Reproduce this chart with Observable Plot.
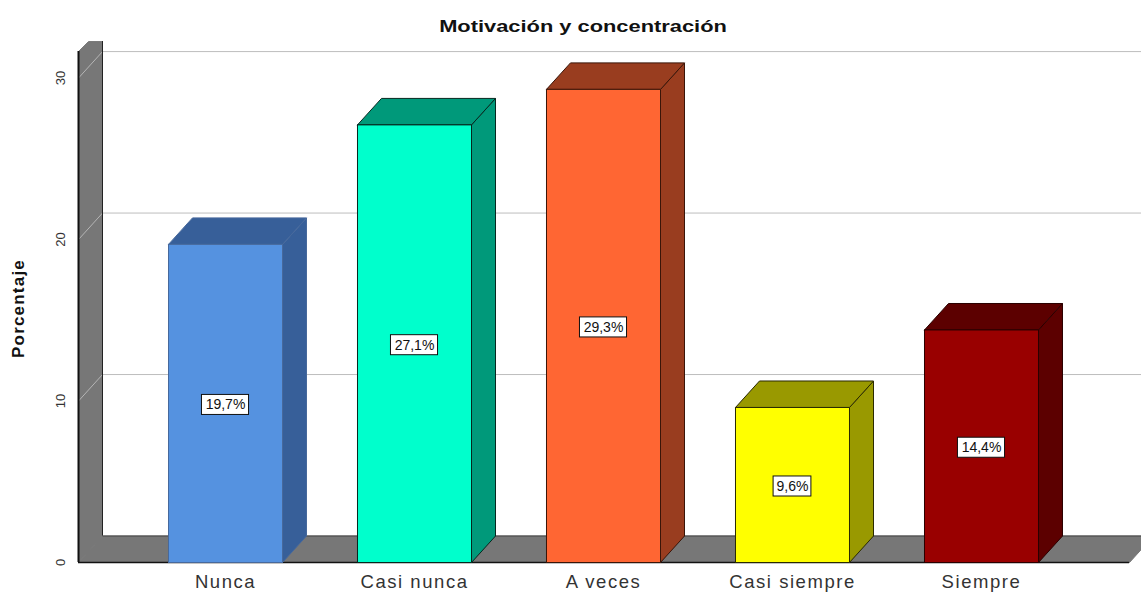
<!DOCTYPE html>
<html>
<head>
<meta charset="utf-8">
<script src="https://cdn.jsdelivr.net/npm/d3@7"></script>
<script src="https://cdn.jsdelivr.net/npm/@observablehq/plot@0.6"></script>
<style>
html,body{margin:0;padding:0;background:#fff;overflow:hidden}
#title{height:38px;width:1166px;text-align:center;font:bold 17px/54px "Liberation Sans",sans-serif;color:#111;white-space:nowrap;transform:scaleX(1.285);transform-origin:583px 0}
g[aria-label="x-axis tick label"]{letter-spacing:1.55px}
</style>
</head>
<body>
<div id="title">Motivación y concentración</div>
<div id="chart"></div>
<script>
const chartTitle = "Motivación y concentración";
const yLabel = "Porcentaje";
const categories = ["Nunca", "Casi nunca", "A veces", "Casi siempre", "Siempre"];
const percentages = [19.7, 27.1, 29.3, 9.6, 14.4];
const frontColors = ["#5592e0", "#00ffcc", "#ff6633", "#ffff00", "#990000"];
const darkColors = ["#375f99", "#00997a", "#993d1f", "#999900", "#5c0000"];
const outlineColors = ["#47699c", "#06281f", "#3a1508", "#2a2a00", "#2a0000"];
const yTicks = [0, 10, 20, 30];

const halfBar = 0.3016, depthX = 0.127, depthY = 1.64;
const xMin = -0.7778, xMax = 4.8466, floorEnd = 4.783, wallTop = 31.64, chamfer = 0.053;

function poly(points, fill, stroke, strokeWidth = 1) {
  const closed = [...points, points[0]];
  return Plot.line(closed, {x: d => d[0], y: d => d[1], fill, stroke, strokeWidth, strokeLinejoin: "miter"});
}

const barMarks = percentages.flatMap((v, i) => {
  const l = i - halfBar, r = i + halfBar;
  const stroke = outlineColors[i];
  return [
    poly([[r, 0], [r + depthX, depthY], [r + depthX, v + depthY], [r, v]], darkColors[i], stroke),
    poly([[l, v], [r, v], [r + depthX, v + depthY], [l + depthX, v + depthY]], darkColors[i], stroke),
    poly([[l, 0], [r, 0], [r, v], [l, v]], frontColors[i], stroke)
  ];
});

const fmt = v => v.toFixed(1).replace(".", ",") + "%";
const labelRows = percentages.map((v, i) => ({i, mid: v / 2, text: fmt(v)}));
const boxHalf = d => d.text.length >= 5 ? 0.1245 : 0.1;

const plot = Plot.plot({
  width: 1141,
  height: 555,
  marginLeft: 78,
  marginRight: 0,
  marginTop: 0,
  marginBottom: 31,
  style: {background: "#fff", overflow: "hidden"},
  x: {domain: [xMin, xMax]},
  y: {domain: [0, 32.45]},
  marks: [
    // back wall grid
    Plot.ruleY(yTicks.slice(1), {y: d => d + depthY, x1: xMin + depthX, x2: xMax, stroke: "#bdbdbd", strokeWidth: 1}),
    // floor
    poly([[xMin, 0], [floorEnd, 0], [floorEnd + depthX, depthY], [xMin + depthX, depthY]], "#777777", "#777777"),
    Plot.ruleY([depthY], {x1: xMin + depthX, x2: xMax, stroke: "#444", strokeWidth: 1}),
    // left wall
    poly([[xMin, 0], [xMin + depthX, depthY], [xMin + depthX, wallTop + 0.62], [xMin + chamfer, wallTop + 0.62], [xMin, wallTop]], "#777777", "#777777"),
    Plot.link(yTicks.slice(1), {x1: xMin, y1: d => d, x2: xMin + depthX, y2: d => d + depthY, stroke: "#b5b5b5", strokeWidth: 1}),
    Plot.ruleX([xMin + depthX], {y1: depthY, y2: wallTop + 0.62, stroke: "#222", strokeWidth: 1}),
    Plot.ruleX([xMin], {y1: 0, y2: wallTop, stroke: "#111", strokeWidth: 2}),
    Plot.ruleY([0], {x1: xMin, x2: floorEnd, stroke: "#111", strokeWidth: 1.5}),
    ...barMarks,
    // value labels
    Plot.rect(labelRows, {x1: d => d.i - boxHalf(d), x2: d => d.i + boxHalf(d), y1: d => d.mid - 0.62, y2: d => d.mid + 0.62, dy: 1.5, fill: "#fff", stroke: "#111", strokeWidth: 1}),
    Plot.text(labelRows, {x: "i", y: "mid", text: "text", dy: 1.5, fontSize: 14, fontFamily: "Liberation Sans", fill: "#111"}),
    // axes
    Plot.axisY({ticks: yTicks, tickSize: 0, tickPadding: 14, tickRotate: -90, label: null, fontSize: 13, fontFamily: "Liberation Sans", color: "#333"}),
    Plot.axisX({ticks: [0, 1, 2, 3, 4], tickFormat: i => categories[i], tickSize: 0, tickPadding: 12, label: null, fontSize: 18.5, fontFamily: "Liberation Sans", color: "#333"}),
    Plot.text([yLabel], {frameAnchor: "left", textAnchor: "middle", rotate: -90, dx: -60, dy: 8, fontSize: 17, fontWeight: "bold", fontFamily: "Liberation Sans", fill: "#111"})
  ]
});
d3.select(plot).selectAll("text").filter(function () { return this.textContent === yLabel; }).style("letter-spacing", "1.2px");
document.getElementById("chart").append(plot);
</script>
</body>
</html>
